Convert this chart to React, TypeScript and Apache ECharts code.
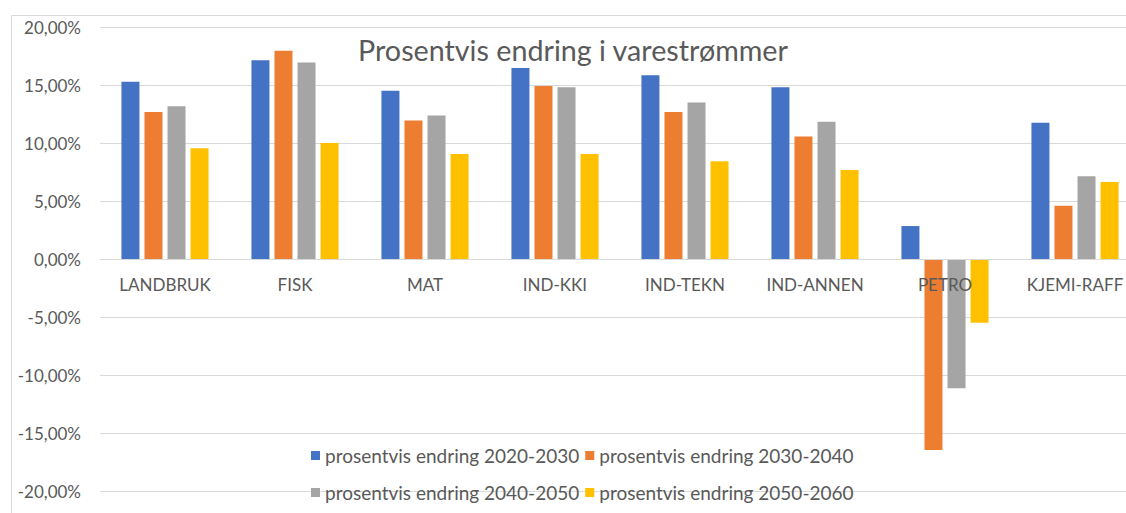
import React, { useEffect, useRef } from "react";
import * as echarts from "echarts";

const categories = ["LANDBRUK", "FISK", "MAT", "IND-KKI", "IND-TEKN", "IND-ANNEN", "PETRO", "KJEMI-RAFF"];
const seriesNames = [
  "prosentvis endring 2020-2030",
  "prosentvis endring 2030-2040",
  "prosentvis endring 2040-2050",
  "prosentvis endring 2050-2060",
];
const s2020 = [15.28, 17.13, 14.51, 16.47, 15.83, 14.8, 2.84, 11.75];
const s2030 = [12.67, 17.96, 11.95, 14.91, 12.67, 10.57, -16.47, 4.6];
const s2040 = [13.16, 16.95, 12.38, 14.8, 13.5, 11.84, -11.15, 7.13];
const s2050 = [9.54, 10.0, 9.05, 9.05, 8.42, 7.67, -5.49, 6.64];
const colors = ["#4472C4", "#ED7D31", "#A5A5A5", "#FFC000"];
const title = "Prosentvis endring i varestrømmer";

const FONT = "Lato";
const TEXT = "#595959";

export default function App() {
  const ref = useRef<HTMLDivElement>(null);
  useEffect(() => {
    document.body.style.margin = "0";
    const chart = echarts.init(ref.current!, null, { renderer: "svg" });
    const data = [s2020, s2030, s2040, s2050];
    const legendCommon = {
      left: 306,
      itemWidth: 9,
      itemHeight: 9,
      itemGap: 6,
      icon: "rect",
      textStyle: { fontFamily: FONT, fontSize: 19, color: TEXT },
    };
    chart.setOption({
      animation: false,
      textStyle: { fontFamily: FONT },
      title: {
        text: title,
        left: 568,
        top: 30,
        textAlign: "center",
        textStyle: { fontFamily: FONT, fontSize: 28.7, fontWeight: "normal", color: TEXT },
      },
      legend: [
        { ...legendCommon, data: seriesNames.slice(0, 2), top: 441 },
        { ...legendCommon, data: seriesNames.slice(2, 4), top: 478 },
      ],
      grid: { left: 100, top: 27, width: 1040, height: 464, outerBoundsMode: "none", containLabel: false },
      xAxis: {
        type: "category",
        data: categories,
        position: "bottom",
        offset: -232,
        z: 5,
        axisLine: { onZero: false, lineStyle: { color: "#D9D9D9", width: 1 } },
        axisTick: { show: false },
        axisLabel: { color: TEXT, fontFamily: FONT, fontSize: 17, margin: 17 },
      },
      yAxis: {
        type: "value",
        min: -20,
        max: 20,
        interval: 5,
        axisLine: { show: false },
        axisTick: { show: false },
        splitLine: { lineStyle: { color: "#D9D9D9", width: 1 } },
        axisLabel: {
          color: TEXT,
          fontFamily: FONT,
          fontSize: 17,
          margin: 19,
          formatter: (v: number) => v.toFixed(2).replace(".", ",") + "%",
        },
      },
      graphic: [
        {
          type: "rect",
          shape: { x: 11.5, y: 15.5, width: 1130, height: 510 },
          style: { fill: "none", stroke: "#D9D9D9", lineWidth: 1 },
          silent: true,
          z: -1,
        },
      ],
      series: seriesNames.map((name, i) => ({
        name,
        type: "bar",
        data: data[i],
        barWidth: 18,
        barGap: "28%",
        itemStyle: { color: colors[i] },
      })),
    });
    return () => chart.dispose();
  }, []);
  return <div ref={ref} style={{ width: 1126, height: 513 }} />;
}
